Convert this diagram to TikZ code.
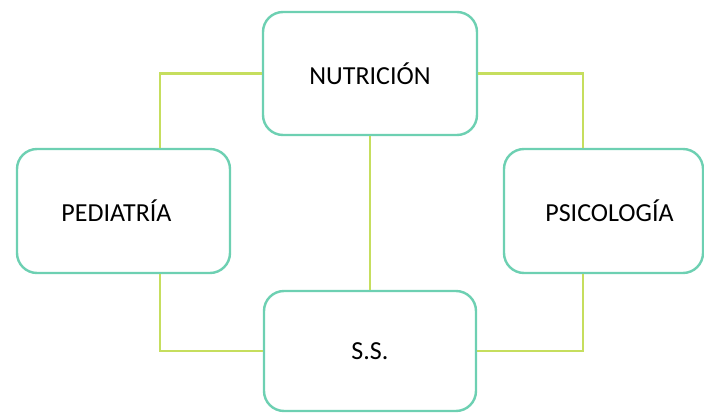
\documentclass[tikz,border=0pt]{standalone}
\usepackage{fontspec}
\setmainfont{Carlito}
\usetikzlibrary{positioning}

\definecolor{boxline}{HTML}{6DD0B2}
\definecolor{linkline}{HTML}{C6DE5E}

\begin{document}
\begin{tikzpicture}[
    x=1pt, y=-1pt,
    every node/.style={font=\fontsize{26}{31}\selectfont},
    area/.style={draw=boxline, line width=2.4pt, rounded corners=20pt, fill=white, inner sep=0pt, align=center},
    link/.style={draw=linkline, line width=2.2pt}
]
\useasboundingbox (0,0) rectangle (704,414);

% Nutrición
\node[area, minimum width=214pt, minimum height=123pt] (nutri) at (370,73.5) {NUTRICIÓN};

% Pediatría
\node[area, minimum width=213pt, minimum height=124pt] (pedia) at (123.5,211) {PEDIATRÍA\hspace*{14pt}};

% Psicología
\node[area, minimum width=199pt, minimum height=124pt] (psico) at (603.5,211) {\hspace*{12pt}PSICOLOGÍA};

% S.S.
\node[area, minimum width=212pt, minimum height=120pt] (ss) at (370,351) {\raisebox{-8pt}{S.S.}};

\draw[link] (nutri.west) -| ([xshift=36.5pt]pedia.north);
\draw[link] (nutri.east) -| ([xshift=-20.5pt]psico.north);
\draw[link] (nutri.south) -- (ss.north);
\draw[link] ([xshift=36.5pt]pedia.south) |- (ss.west);
\draw[link] ([xshift=-20.5pt]psico.south) |- (ss.east);

\end{tikzpicture}
\end{document}
